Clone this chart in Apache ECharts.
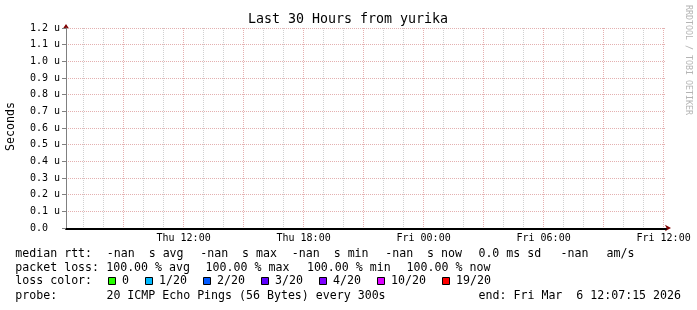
<!DOCTYPE html>
<html>
<head>
<meta charset="utf-8">
<script src="https://cdn.jsdelivr.net/npm/echarts@6/dist/echarts.min.js"></script>
<style>
html,body{margin:0;padding:0;background:#ffffff;}
#c{width:697px;height:310px;}
</style>
</head>
<body>
<div id="c"></div>
<script>
// ---------------- data ----------------
// x values: hours since Thu 00:00 ; graph spans Thu 06:07:15 .. Fri 12:07:15
const timeStart = 6 + 7 / 60 + 15 / 3600;
const timeEnd = 36 + 7 / 60 + 15 / 3600;
const xTickHours = [12, 18, 24, 30, 36];
const xTickLabels = ['Thu 12:00', 'Thu 18:00', 'Fri 00:00', 'Fri 06:00', 'Fri 12:00'];
const majorGridHours = [9, 12, 15, 18, 21, 24, 27, 30, 33, 36];
const minorGridHours = [7, 8, 10, 11, 13, 14, 16, 17, 19, 20, 22, 23, 25, 26, 28, 29, 31, 32, 34, 35];
// y values in microseconds
const yMin = 0, yMax = 1.2, yStep = 0.1;
// median rtt: every sample is NaN (100 % packet loss) -> nothing is drawn
const medianRtt = [];
const titleText = 'Last 30 Hours from yurika';
const yAxisTitle = 'Seconds';
const watermark = 'RRDTOOL / TOBI OETIKER';
const rttLabel = 'median rtt:';
const rttStats = ['-nan  s avg', '-nan  s max', '-nan  s min', '-nan  s now', '0.0 ms sd', '-nan', 'am/s'];
const lossLabel = 'packet loss:';
const lossStats = ['100.00 % avg', '100.00 % max', '100.00 % min', '100.00 % now'];
const colorLabel = 'loss color:';
const lossLabels = ['0', '1/20', '2/20', '3/20', '4/20', '10/20', '19/20'];
const lossColors = ['#26ff00', '#00b8ff', '#0059ff', '#5e00ff', '#7e00ff', '#dd00ff', '#ff0000'];
const probeLabel = 'probe:';
const probeText = '20 ICMP Echo Pings (56 Bytes) every 300s';
const endText = 'end: Fri Mar  6 12:07:15 2026';

// ---------------- layout / style ----------------
const MONO = '"DejaVu Sans Mono", monospace';
const MAJOR = '#e4b0b0';
const MINOR = '#d0d0d0';
const ARROW = '#7f0000';

function txt(x, y, s, size, align, extra) {
  const el = {
    type: 'text', x: x, y: y, silent: true,
    style: {
      text: s, font: size + 'px ' + MONO, fill: '#000000',
      align: align, verticalAlign: 'middle',
      textAlign: align, textVerticalAlign: 'middle'
    }
  };
  if (extra) {
    if (extra.rotation !== undefined) el.rotation = extra.rotation;
    if (extra.fill) el.style.fill = extra.fill;
  }
  return el;
}

const LS = 11.6;            // legend font size
const rowY = [254, 268, 281.3, 295.6];
const elements = [];
elements.push(txt(348, 19.5, titleText, 13.3, 'center'));
elements.push(txt(10.5, 126.5, yAxisTitle, LS, 'center', {rotation: Math.PI / 2}));
elements.push(txt(688.5, 60, watermark, 8.3, 'center', {rotation: -Math.PI / 2, fill: '#b4b4b4'}));

// row 1
elements.push(txt(15.3, rowY[0], rttLabel, LS, 'left'));
const rttX = [106.8, 200.2, 291.8, 385.2, 478.4, 560.5, 606.5];
rttStats.forEach((s, i) => elements.push(txt(rttX[i], rowY[0], s, LS, 'left')));
// row 2
elements.push(txt(15.3, rowY[1], lossLabel, LS, 'left'));
const lossX = [106.2, 205.6, 306.9, 406.6];
lossStats.forEach((s, i) => elements.push(txt(lossX[i], rowY[1], s, LS, 'left')));
// row 3
elements.push(txt(15.3, rowY[2], colorLabel, LS, 'left'));
let bx = 108;
lossLabels.forEach((s, i) => {
  elements.push({
    type: 'rect', silent: true,
    shape: {x: bx + 0.5, y: 277.5, width: 7, height: 7},
    style: {fill: lossColors[i], stroke: '#000000', lineWidth: 1}
  });
  elements.push(txt(bx + 14, rowY[2], s, LS, 'left'));
  bx += 30 + 7 * s.length;
});
// row 4
elements.push(txt(15.3, rowY[3], probeLabel, LS, 'left'));
elements.push(txt(106.4, rowY[3], probeText, LS, 'left'));
elements.push(txt(681, rowY[3], endText, LS, 'right'));

const chart = echarts.init(document.getElementById('c'), null, {renderer: 'canvas'});
const option = {
  backgroundColor: '#ffffff',
  animation: false,
  grid: {left: 66, right: 31, top: 28, bottom: 82, containLabel: false},
  xAxis: [
    {
      type: 'value', min: timeStart, max: timeEnd, position: 'bottom', z: 3, offset: 1,
      axisLine: {show: true, onZero: false, lineStyle: {color: '#000000', width: 2}},
      axisTick: {show: false, customValues: majorGridHours},
      axisLabel: {
        show: true, customValues: xTickHours, margin: 4,
        formatter: v => xTickLabels[xTickHours.indexOf(Math.round(v))],
        color: '#000000', fontFamily: MONO, fontSize: 10
      },
      splitLine: {show: true, lineStyle: {color: MAJOR, width: 1, type: [1, 1]}}
    },
    {
      type: 'value', min: timeStart, max: timeEnd, position: 'bottom', z: 1,
      axisLine: {
        show: true, onZero: false, symbol: ['none', 'arrow'], symbolSize: [5, 6], symbolOffset: [0, 5],
        lineStyle: {color: ARROW, width: 1}
      },
      axisTick: {show: false, customValues: minorGridHours},
      axisLabel: {show: false},
      splitLine: {show: true, lineStyle: {color: MINOR, width: 1, type: [1, 1]}}
    }
  ],
  yAxis: [
    {
      type: 'value', min: yMin, max: yMax, interval: yStep, position: 'left', z: 3,
      axisLine: {show: true, onZero: false, lineStyle: {color: '#808080', width: 1}},
      axisTick: {show: true, length: 4, lineStyle: {color: '#808080'}},
      axisLabel: {
        margin: 6, color: '#000000', fontFamily: MONO, fontSize: 10,
        formatter: v => (Math.abs(v) < 1e-9 ? '0.0  ' : v.toFixed(1) + ' u')
      },
      splitLine: {show: true, lineStyle: {color: MAJOR, width: 1, type: [1, 1]}}
    },
    {
      type: 'value', min: yMin, max: yMax, interval: yStep, position: 'left', z: 1,
      axisLine: {
        show: true, onZero: false, symbol: ['none', 'arrow'], symbolSize: [5, 5], symbolOffset: [0, 4],
        lineStyle: {color: ARROW, width: 1}
      },
      axisTick: {show: false}, axisLabel: {show: false}, splitLine: {show: false}
    }
  ],
  series: [
    {type: 'line', name: 'median rtt', xAxisIndex: 0, yAxisIndex: 0, data: medianRtt, showSymbol: false}
  ],
  graphic: {elements: elements}
};
chart.setOption(option);
</script>
</body>
</html>
